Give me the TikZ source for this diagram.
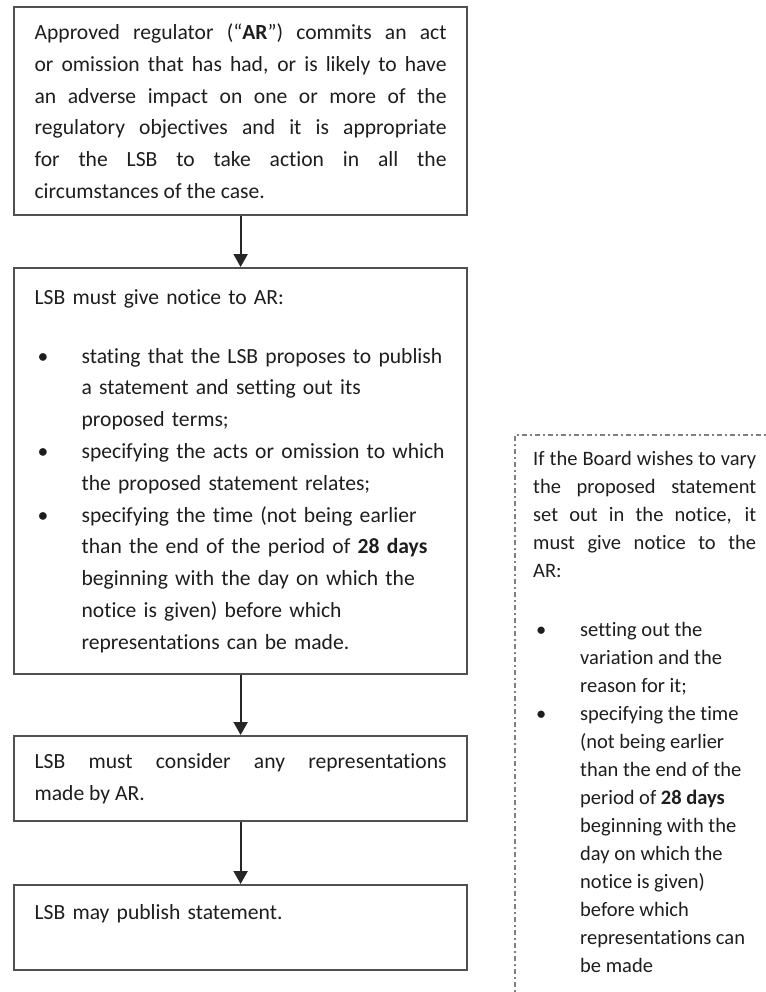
\documentclass[tikz,border=0pt]{standalone}
\usepackage{fontspec}
\setmainfont{Carlito}[Ligatures=NoCommon]
\usetikzlibrary{arrows.meta}
\setlength\parindent{0pt}
\definecolor{textcol}{HTML}{1E1E1E}
\definecolor{boxcol}{HTML}{505050}
\definecolor{arrowcol}{HTML}{262626}
\definecolor{dashcol}{HTML}{808080}
\newcommand\bitem[1]{\par\hangindent=47pt\hangafter=1\makebox[47pt][l]{\hspace{3pt}\textbullet}#1\par}
\newcommand\oneline[1]{\mbox{#1}}
\begin{document}
\begin{tikzpicture}[x=1pt,y=-1pt,
  flowbox/.style={draw=boxcol, line width=2.2pt, rectangle, minimum width=453pt,
    inner sep=0pt, anchor=north west, text width=412pt, text=textcol,
    font=\fontsize{21.6}{31.8}\selectfont},
  flowarrow/.style={draw=arrowcol, line width=2.2pt,
    -{Triangle[length=13pt,width=14pt]}},
  dashdotline/.style={draw=dashcol, line width=2pt,
    dash pattern=on 5pt off 3pt on 2pt off 3pt},
  sidetext/.style={inner sep=0pt, anchor=base west, text width=223pt, text=textcol,
    font=\fontsize{20.5}{28}\selectfont}]
\useasboundingbox (0,0) rectangle (765,992);
\fill[white] (0,0) rectangle (765,992);

\node[flowbox, minimum height=208pt, align=justify] (b1) at (13,6) {%
Approved regulator (“\textbf{AR}”) commits an act\linebreak
or omission that has had, or is likely to have\linebreak
an adverse impact on one or more of the\linebreak
regulatory objectives and it is appropriate\linebreak
for the LSB to take action in all the\linebreak
circumstances of the case.};

\node[flowbox, minimum height=406pt, align=left] (b2) at (13,267) {%
LSB must give notice to AR:\par\vspace{27pt}
\bitem{\oneline{stating that the LSB proposes to publish}\newline\oneline{a statement and setting out its}\newline\oneline{proposed terms;}}
\bitem{\oneline{specifying the acts or omission to which}\newline\oneline{the proposed statement relates;}}
\bitem{\oneline{specifying the time (not being earlier}\newline\oneline{than the end of the period of \textbf{28 days}}\newline\oneline{beginning with the day on which the}\newline\oneline{notice is given) before which}\newline\oneline{representations can be made.}}};

\node[flowbox, minimum height=85pt, align=justify] (b3) at (13,735) {%
LSB must consider any representations\linebreak made by AR.};

\node[flowbox, minimum height=85pt, align=left] (b4) at (13,884) {%
LSB may publish statement.\\\mbox{}};

\draw[flowarrow] (b1.south) -- (b2.north);
\draw[flowarrow] (b2.south) -- (b3.north);
\draw[flowarrow] (b3.south) -- (b4.north);

\node[draw=none, rectangle, inner sep=0pt, anchor=north west,
  minimum width=260pt, minimum height=565pt] (vbox) at (515,435) {};
\draw[dashdotline] (vbox.south west) -- (vbox.north west) -- (vbox.north east);

\node[sidetext, align=justify] (vtext) at (533,465) {%
If the Board wishes to vary\linebreak
the proposed statement\linebreak
set out in the notice, it\linebreak
must give notice to the\linebreak
AR:\par\vspace{31pt}
\raggedright
\bitem{\oneline{setting out the}\newline\oneline{variation and the}\newline\oneline{reason for it;}}
\bitem{\oneline{specifying the time}\newline\oneline{(not being earlier}\newline\oneline{than the end of the}\newline\oneline{period of \textbf{28 days}}\newline\oneline{beginning with the}\newline\oneline{day on which the}\newline\oneline{notice is given)}\newline\oneline{before which}\newline\oneline{representations can}\newline\oneline{be made}}};
\end{tikzpicture}
\end{document}
